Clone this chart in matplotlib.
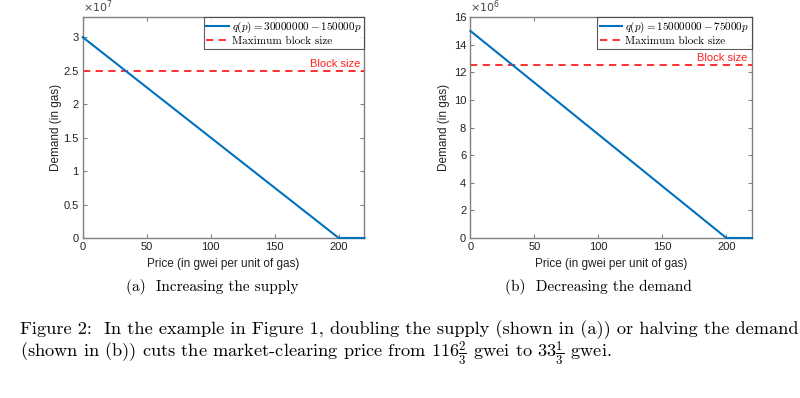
import matplotlib
matplotlib.use("Agg")
import matplotlib.pyplot as plt
from matplotlib.ticker import FuncFormatter
from matplotlib.font_manager import FontProperties

plt.rcParams['font.family'] = ['Liberation Sans', 'DejaVu Sans']
plt.rcParams['mathtext.fontset'] = 'dejavusans'

# ---- data ----
prices = [0, 200, 220]
demand_a = [30000000, 0, 0]
demand_b = [15000000, 0, 0]
block_a = 25000000
block_b = 12500000
xticks = [0, 50, 100, 150, 200]
yticks_a = [0, 0.5e7, 1e7, 1.5e7, 2e7, 2.5e7, 3e7]
yticks_b = [0, 2e6, 4e6, 6e6, 8e6, 10e6, 12e6, 14e6, 16e6]
label_a = r"$q(p)=30000000-150000p$"
label_b = r"$q(p)=15000000-75000p$"
label_block = "Maximum block size"
sub_a = "(a)  Increasing the supply"
sub_b = "(b)  Decreasing the demand"
cap1 = "Figure 2:  In the example in Figure 1, doubling the supply (shown in (a)) or halving the demand"
cap2 = r"(shown in (b)) cuts the market-clearing price from $116\frac{2}{3}$ gwei to $33\frac{1}{3}$ gwei."

blue = '#0072BD'
red = '#FF2020'
gray = '#808080'

fig = plt.figure(figsize=(8, 3.98), dpi=100)

cm_prop = FontProperties(family='cmr10', size=8, math_fontfamily='cm')

def make_axes(rect, y, block, yticks, ylim, label, exp):
    ax = fig.add_axes(rect)
    ax.plot(prices, y, color=blue, lw=1.5, label=label, zorder=3, clip_on=False)
    ax.axhline(block, color=red, ls=(0, (4, 3)), lw=1.3, label=label_block)
    ax.set_xlim(0, 220)
    ax.set_ylim(*ylim)
    ax.set_xticks(xticks)
    ax.set_yticks(yticks)
    ax.yaxis.set_major_formatter(FuncFormatter(lambda v, p, e=exp: '%g' % (v / 10 ** e)))
    ax.text(0.0, 1.008, r'$\times10^{%d}$' % exp, transform=ax.transAxes,
            ha='left', va='bottom', fontsize=8, color='#444444')
    for s in ax.spines.values():
        s.set_color(gray)
        s.set_linewidth(1.0)
    ax.tick_params(direction='in', top=True, right=True, length=3, width=0.8,
                   color=gray, labelsize=8, labelcolor='#222222', pad=3)
    ax.set_xlabel('Price (in gwei per unit of gas)', fontsize=8.5, labelpad=4, color='#222222')
    ax.set_ylabel('Demand (in gas)', fontsize=8.5, color='#222222')
    ax.yaxis.set_label_coords(-0.074, 0.5)
    ax.annotate('Block size', xy=(0.985, block), xycoords=('axes fraction', 'data'),
                xytext=(0, 1.5), textcoords='offset points',
                ha='right', va='bottom', color=red, fontsize=8)
    leg = ax.legend(loc='upper right', prop=cm_prop, frameon=True, fancybox=False,
                    borderaxespad=0.0, handlelength=2.0, handletextpad=0.3,
                    borderpad=0.25, labelspacing=0.12)
    leg.get_frame().set_edgecolor('#333333')
    leg.get_frame().set_linewidth(0.8)
    return ax

ax1 = make_axes([0.1034, 0.402, 0.352, 0.555], demand_a, block_a, yticks_a, (0, 3.3e7), label_a, 7)
ax2 = make_axes([0.588, 0.402, 0.352, 0.555], demand_b, block_b, yticks_b, (0, 16e6), label_b, 6)

fig.text(212 / 800, 1 - 287 / 398, sub_a, ha='center', va='center', fontsize=11,
         family='cmr10')
fig.text(598 / 800, 1 - 287 / 398, sub_b, ha='center', va='center', fontsize=11,
         family='cmr10')
fig.text(20 / 800, 1 - 334 / 398, cap1, ha='left', va='baseline', fontsize=13.2,
         family='cmr10')
fig.text(20 / 800, 1 - 357 / 398, cap2, ha='left', va='baseline', fontsize=13.2,
         family='cmr10', math_fontfamily='cm')

fig.savefig('out.png', dpi=100)
